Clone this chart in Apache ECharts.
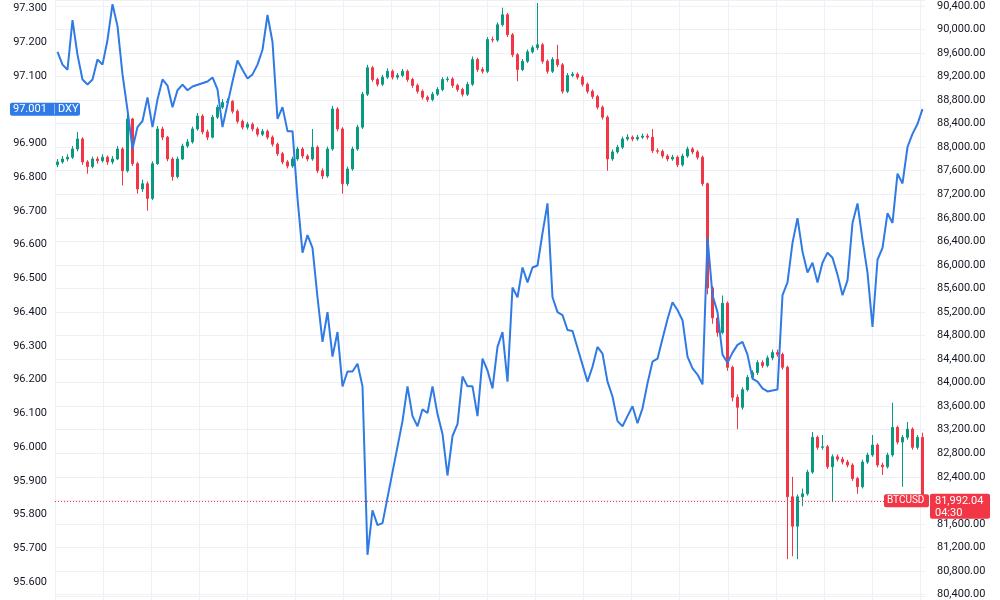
<!DOCTYPE html>
<html>
<head>
<meta charset="utf-8">
<title>DXY vs BTCUSD</title>
<script src="https://cdn.jsdelivr.net/npm/echarts@6/dist/echarts.min.js"></script>
<style>
  html, body { margin: 0; padding: 0; background: #ffffff; }
  #chart { width: 1000px; height: 600px; }
</style>
</head>
<body>
<div id="chart"></div>
<script>
// BTCUSD candles (right axis), one per slot; open = previous close
const btcFirstOpen = 87700;
const btcClose = [
  87750,87800,87830,87970,88140,87750,87670,87800,87770,87830,
  87750,87800,87970,87600,88480,87720,87290,87380,87130,87720,
  88310,88170,87800,87500,87800,88020,88090,88310,88530,88260,
  88170,88510,88680,88760,88780,88610,88440,88340,88390,88310,
  88220,88270,88170,88050,87890,87750,87680,87800,87970,87850,
  87800,88000,87600,87510,87970,88650,88310,87380,87630,87970,
  88340,88900,89350,89150,89070,89190,89290,89190,89220,89290,
  89150,89050,88950,88850,88810,88900,88980,89150,89160,89050,
  88980,88900,89070,89490,89320,89290,89830,89820,90080,90250,
  89910,89570,89320,89460,89620,89690,89740,89460,89290,89490,
  89400,88950,89220,89240,89190,89070,88950,88860,88680,88510,
  87800,87920,88000,88140,88170,88140,88170,88190,88170,87940,
  87930,87850,87800,87830,87700,87850,87970,87920,87830,87380,
  85610,85100,84850,85350,84260,83750,83580,83880,84090,84170,
  84340,84290,84420,84510,84480,84260,82060,81560,82060,82110,
  82480,83070,82900,82910,82570,82740,82700,82650,82600,82370,
  82230,82650,82770,82940,82600,82570,82770,83240,82990,83070,
  83210,82900,83070,81992.04
];
const btcHigh = [
  87800,87850,87880,88020,88260,88170,87780,87840,87840,87880,
  87860,87850,88020,88000,88700,88500,87750,87450,87420,87760,
  88360,88350,88190,87830,87840,88060,88140,88350,88580,88560,
  88300,88550,88720,88820,88830,88800,88640,88470,88430,88420,
  88340,88310,88300,88200,88080,87920,87780,87840,88010,88000,
  87880,88310,88030,87640,88010,88700,88680,88340,87670,88010,
  88380,88940,89400,89380,89180,89230,89340,89320,89260,89330,
  89320,89180,89080,88980,88880,88940,89020,89190,89200,89190,
  89080,89010,89110,89540,89520,89360,89870,89880,90120,90370,
  90280,89940,89600,89500,89660,89730,90450,89770,89490,89530,
  89740,89430,89260,89280,89270,89220,89100,88980,88890,88710,
  88540,87960,88040,88180,88220,88200,88210,88230,88230,88310,
  87980,87960,87880,87870,87860,87890,88010,88000,87950,87860,
  87400,85640,85150,85480,85380,84290,83800,83920,84130,84210,
  84380,84380,84460,84560,84560,84510,84290,82400,82100,82200,
  82520,83160,83100,83110,82940,82780,82780,82740,82690,82630,
  82400,82690,82810,83110,82970,82640,82810,83660,83270,83110,
  83330,83240,83110,83150
];
const btcLow = [
  87660,87720,87760,87800,87930,87700,87550,87640,87720,87740,
  87700,87710,87780,87350,87570,87680,87210,87240,86920,87100,
  87700,88120,87760,87430,87470,87780,87990,88060,88280,88220,
  88120,88150,88480,88650,88700,88570,88400,88300,88300,88270,
  88180,88190,88130,88010,87850,87710,87640,87650,87770,87810,
  87760,87770,87560,87460,87480,87940,88270,87210,87340,87600,
  87940,88310,88870,89110,89030,89040,89160,89150,89150,89190,
  89110,89010,88910,88810,88770,88780,88870,88950,89110,89010,
  88940,88860,88870,89040,89280,89250,89260,89780,89790,90050,
  89870,89530,89120,89290,89430,89590,89650,89420,89250,89260,
  89360,88910,88920,89190,89150,89030,88910,88820,88640,88470,
  87600,87770,87890,87970,88110,88100,88110,88140,88130,87900,
  87890,87810,87760,87770,87660,87670,87820,87880,87790,87340,
  85500,85000,84780,84820,84200,83680,83210,83540,83850,84050,
  84130,84250,84260,84380,84440,84220,81000,81050,81000,81900,
  82080,82450,82860,82860,82530,81970,82660,82610,82560,82330,
  82110,82200,82620,82740,82560,82430,82540,82740,82950,82230,
  83030,82860,82860,81980
];

// DXY (left axis), same slots; null = market closed (line bridges the gap)
const dxy = [
  97.171,97.133,97.118,97.265,97.162,97.089,97.074,97.089,97.148,97.133,
  97.206,97.312,97.247,97.104,96.998,96.884,96.948,96.966,97.036,96.948,
  97.030,97.089,97.071,97.007,97.057,97.074,97.057,97.068,null,null,
  97.083,97.095,97.060,96.948,97.016,97.083,97.145,97.118,97.092,97.104,
  97.133,97.177,97.280,97.200,96.972,97.007,96.936,96.936,96.737,96.576,
  96.628,96.590,96.444,96.312,96.400,96.268,96.341,96.180,96.224,96.224,
  96.247,96.180,95.681,95.813,95.769,95.775,null,null,null,96.077,
  96.180,96.092,96.062,96.112,96.101,96.180,96.098,96.039,95.916,96.033,
  96.068,96.209,96.180,96.180,96.092,96.262,96.227,96.174,96.297,96.341,
  96.194,96.473,96.444,96.532,96.488,96.532,96.538,96.634,96.722,96.444,
  96.400,96.391,96.347,96.344,null,null,96.194,96.238,96.297,96.277,
  96.194,96.150,96.077,96.062,96.092,96.121,96.071,96.115,96.189,96.253,
  96.262,96.321,96.379,96.429,96.406,96.376,96.268,96.233,96.215,96.186,
  96.620,96.450,96.400,96.274,96.250,96.280,96.303,96.312,96.274,96.203,
  96.194,96.174,96.165,96.168,96.171,96.450,96.488,96.605,96.678,96.579,
  96.517,96.546,96.488,96.546,96.576,96.561,96.511,96.450,96.494,96.664,
  96.722,96.614,96.517,96.356,96.555,96.590,96.693,96.664,96.810,96.781,
  96.889,96.928,96.957,97.001
];

const dxyLast = 97.001;
const btcLast = 81992.04;
const btcCountdown = "04:30";

const chart = echarts.init(document.getElementById("chart"));

const slots = btcClose.map((_, i) => i);
const candles = btcClose.map((c, i) => {
  const o = i === 0 ? btcFirstOpen : btcClose[i - 1];
  return [o, c, btcLow[i], btcHigh[i]];
});

const BLUE = "#2f7ae5";
const RED = "#f23645";
const GREEN = "#089981";
const GRID = "#eef0f5";
const FONT = "Roboto, sans-serif";

const option = {
  animation: false,
  backgroundColor: "#ffffff",
  textStyle: { fontFamily: FONT },
  grid: [
    { left: 55, right: 75, top: 0, bottom: 0 },
    // only for the vertical grid lines
    { left: 55, width: 865, top: 0, bottom: 0 }
  ],
  xAxis: [
    { type: "category", data: slots, boundaryGap: true, show: false },
    {
      type: "value", gridIndex: 1, min: 0, max: 18, interval: 1,
      axisLine: { show: false }, axisTick: { show: false }, axisLabel: { show: false },
      splitLine: { show: true, lineStyle: { color: GRID, width: 1 } }
    }
  ],
  yAxis: [
    {
      type: "value", position: "left",
      min: 95.5597, max: 97.3244, minInterval: 0.1, maxInterval: 0.1,
      axisLine: { show: false }, axisTick: { show: false },
      splitLine: { show: false },
      axisLabel: {
        color: "#131722", fontSize: 11, margin: 8, fontFamily: FONT,
        showMinLabel: false, showMaxLabel: false,
        formatter: (v) => v.toFixed(3)
      }
    },
    {
      type: "value", position: "right",
      min: 80378, max: 90501, minInterval: 400, maxInterval: 400,
      axisLine: { show: false }, axisTick: { show: false },
      splitLine: { show: true, lineStyle: { color: GRID, width: 1 } },
      axisLabel: {
        color: "#131722", fontSize: 11, margin: 12, fontFamily: FONT,
        showMinLabel: false, showMaxLabel: false,
        formatter: (v) => v.toLocaleString("en-US", { minimumFractionDigits: 2, maximumFractionDigits: 2 })
      }
    },
    { type: "value", gridIndex: 1, show: false }
  ],
  series: [
    {
      name: "BTCUSD",
      type: "candlestick",
      xAxisIndex: 0,
      yAxisIndex: 1,
      data: candles,
      barWidth: 2,
      itemStyle: {
        color: GREEN, color0: RED,
        borderColor: GREEN, borderColor0: RED, borderWidth: 1
      },
      z: 2
    },
    {
      // last-price guide line on the BTC axis
      name: "BTCUSD last",
      type: "line",
      xAxisIndex: 0,
      yAxisIndex: 1,
      data: [],
      color: RED,
      markLine: {
        silent: true,
        symbol: "none",
        label: { show: false },
        lineStyle: { color: RED, type: [1, 2], width: 1 },
        data: [{ yAxis: btcLast }]
      },
      z: 1
    },
    {
      name: "DXY",
      type: "line",
      xAxisIndex: 0,
      yAxisIndex: 0,
      data: dxy,
      symbol: "none",
      connectNulls: true,
      lineStyle: { color: BLUE, width: 2 },
      z: 3
    }
  ]
};

chart.setOption(option);

// price badges, placed from the axes
const yDxy = chart.convertToPixel({ yAxisIndex: 0 }, dxyLast);
const yBtc = chart.convertToPixel({ yAxisIndex: 1 }, btcLast);
const txt = (text, x, y, size) => ({
  type: "text", x: x, y: y, z: 101,
  style: { text: text, fill: "#ffffff", fontSize: size || 11, fontFamily: FONT, verticalAlign: "middle" }
});
const box = (x, y, w, h, fill) => ({
  type: "rect", z: 100, shape: { x: x, y: y, width: w, height: h, r: 2 }, style: { fill: fill }
});

chart.setOption({
  graphic: [
    box(10, yDxy - 6.5, 70, 13, BLUE),
    { type: "line", z: 101, shape: { x1: 54.5, y1: yDxy - 5, x2: 54.5, y2: yDxy + 5 }, style: { stroke: "rgba(255,255,255,0.45)", lineWidth: 1 } },
    txt(dxyLast.toFixed(3), 13, yDxy),
    txt("DXY", 58, yDxy),
    box(884, yBtc - 6.5, 45, 13, RED),
    txt("BTCUSD", 887, yBtc, 10),
    box(930, yBtc - 7, 60, 25, RED),
    txt(btcLast.toLocaleString("en-US", { minimumFractionDigits: 2 }), 935, yBtc),
    txt(btcCountdown, 935, yBtc + 12)
  ]
});
</script>
</body>
</html>
